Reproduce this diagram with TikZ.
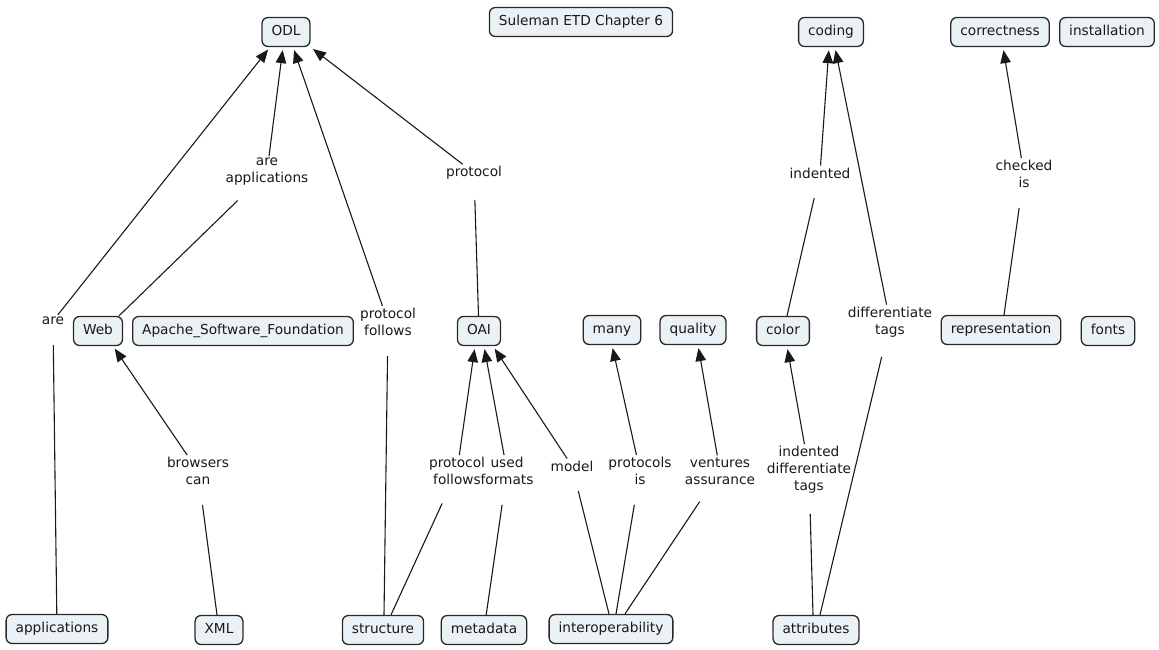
\documentclass[tikz,border=0pt]{standalone}
\usepackage{fontspec}
\setmainfont{DejaVu Sans}
\usetikzlibrary{arrows.meta}
\definecolor{boxfill}{RGB}{234,242,245}
\definecolor{boxline}{RGB}{40,40,40}
\definecolor{ink}{RGB}{25,25,25}
\begin{document}
\begin{tikzpicture}[x=1pt,y=-1pt,
  concept/.style={draw=boxline, fill=boxfill, rounded corners=6pt, line width=1.3pt,
    minimum height=29pt, inner xsep=9.5pt, inner ysep=0pt,
    text height=10pt, text depth=3.2pt,
    font=\fontsize{13.7}{17}\selectfont, text=ink},
  phrase/.style={align=center, inner sep=2pt, font=\fontsize{13.7}{17}\selectfont, text=ink},
  link/.style={draw=ink, line width=1.1pt, shorten >=18pt},
  arrow/.style={draw=ink, line width=1.1pt, -{Triangle[length=13pt,width=10.5pt]}, shorten >=3pt}]

\useasboundingbox (0,0) rectangle (1159,649);

% concepts
\node[concept] (title) at (581,22) {Suleman ETD Chapter 6};
\node[concept] (odl) at (286,32) {ODL};
\node[concept] (coding) at (831,32) {coding};
\node[concept] (correctness) at (1000,32) {correctness};
\node[concept] (installation) at (1107,32) {installation};
\node[concept] (web) at (98,331) {Web};
\node[concept] (apache) at (243,331) {Apache\_Software\_Foundation};
\node[concept] (oai) at (479,331) {OAI};
\node[concept] (many) at (612,330) {many};
\node[concept] (quality) at (693,330) {quality};
\node[concept] (color) at (783,331) {color};
\node[concept] (representation) at (1001,330) {representation};
\node[concept] (fonts) at (1108,331) {fonts};
\node[concept] (applications) at (57,629) {applications};
\node[concept] (xml) at (219,630) {XML};
\node[concept] (structure) at (383,630) {structure};
\node[concept] (metadata) at (484,630) {metadata};
\node[concept] (interop) at (611,629) {interoperability};
\node[concept] (attributes) at (816,630) {attributes};

% linking phrases
\node[phrase] (pAre) at (53,321) {are};
\node[phrase] (pAreApp) at (267,172) {are\\applications};
\node[phrase] (pProtoTop) at (474,173) {protocol};
\node[phrase] (pIndented) at (820,173) {indented};
\node[phrase] (pChecked) at (1024,174) {checked\\is};
\node[phrase] (pFollowsMid) at (388,322) {protocol\\follows};
\node[phrase] (pDiffTags) at (890,322) {differentiate\\tags};
\node[phrase] (pBrowsers) at (198,471) {browsers\\can};
\node[phrase] (pFollowsLow) at (457,471) {protocol\\follows};
\node[phrase] (pUsed) at (507,471) {used\\formats};
\node[phrase] (pModel) at (572,466) {model};
\node[phrase] (pProtocols) at (640,471) {protocols\\is};
\node[phrase] (pVentures) at (720,471) {ventures\\assurance};
\node[phrase] (pIdt) at (809,470) {indented\\differentiate\\tags};

% connections
\draw[link] (applications) -- (pAre);
\draw[arrow] (pAre) -- ([xshift=-16pt]odl.south);
\draw[link] ([xshift=21pt]web.north) -- (pAreApp);
\draw[arrow] (pAreApp) -- ([xshift=-3pt]odl.south);
\draw[link] ([xshift=1pt]structure.north) -- (pFollowsMid);
\draw[arrow] (pFollowsMid) -- ([xshift=7pt]odl.south);
\draw[link] (oai) -- (pProtoTop);
\draw[arrow] (pProtoTop) -- (odl.south east);

\draw[link] (xml) -- (pBrowsers);
\draw[arrow] (pBrowsers) -- ([xshift=15pt]web.south);
\draw[link] ([xshift=8pt]structure.north) -- (pFollowsLow);
\draw[arrow] (pFollowsLow) -- ([xshift=-4pt]oai.south);
\draw[link] (metadata) -- (pUsed);
\draw[arrow] (pUsed) -- ([xshift=5pt]oai.south);
\draw[link] ([xshift=-2pt]interop.north) -- (pModel);
\draw[arrow] (pModel) -- ([xshift=14pt]oai.south);
\draw[link] ([xshift=5pt]interop.north) -- (pProtocols);
\draw[arrow] (pProtocols) -- (many.south);
\draw[link] ([xshift=14pt]interop.north) -- (pVentures);
\draw[arrow] (pVentures) -- ([xshift=5pt]quality.south);
\draw[link] ([xshift=-3pt]attributes.north) -- (pIdt);
\draw[arrow] (pIdt) -- ([xshift=4pt]color.south);
\draw[link] ([xshift=4pt]attributes.north) -- (pDiffTags);
\draw[arrow] (pDiffTags) -- ([xshift=4pt]coding.south);
\draw[link] ([xshift=4pt]color.north) -- (pIndented);
\draw[arrow] (pIndented) -- ([xshift=-2pt]coding.south);
\draw[link] ([xshift=3pt]representation.north) -- (pChecked);
\draw[arrow] (pChecked) -- ([xshift=3pt]correctness.south);
\end{tikzpicture}
\end{document}
